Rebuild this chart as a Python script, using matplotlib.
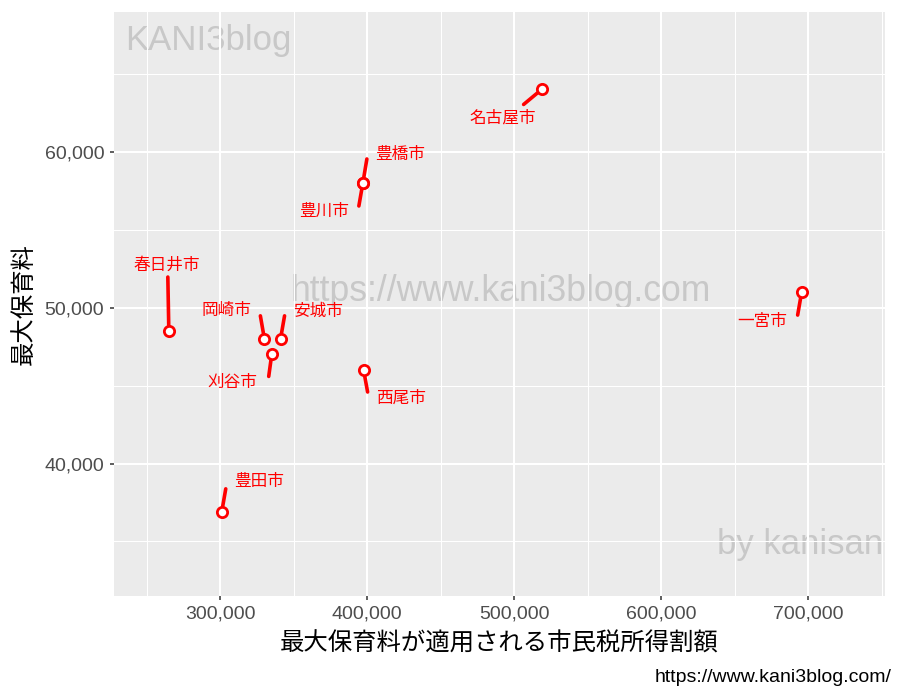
import matplotlib
matplotlib.use('Agg')
import matplotlib.pyplot as plt
from matplotlib.ticker import FuncFormatter, MultipleLocator

plt.rcParams['font.family'] = ['Liberation Sans', 'Noto Sans CJK JP']

# ---- data ----
cities = ['名古屋市', '豊橋市', '豊川市', '春日井市', '岡崎市',
          '安城市', '刈谷市', '西尾市', '一宮市', '豊田市']
income_tax = [518600, 397000, 397000, 265000, 330000,
              341000, 335000, 397500, 695500, 301000]
max_fee = [64000, 58000, 58000, 48500, 48000,
           48000, 47000, 46000, 51000, 36900]

# label placement (pixels from the point, repel-like)
label_dx = [-39, 37, -39, -2, -38, 37, -39, 37, -39, 37]
label_dy = [-28, 28, -28, 66, 28, 28, -28, -28, -29, 30]
# where each leader segment ends (pixels from the point)
seg_dx = [-18, 4, -4, -1, -4, 4, -3, 4, -4, 4]
seg_dy = [-15, 24, -23, 54, 23, 23, -22, -22, -23, 23]

x_title = '最大保育料が適用される市民税所得割額'
y_title = '最大保育料'
caption = 'https://www.kani3blog.com/'

fig = plt.figure(figsize=(9, 7), dpi=100)
ax = fig.add_axes([114/900, 1 - 596/700, 771/900, 584/700])
ax.set_facecolor('#EBEBEB')
for s in ax.spines.values():
    s.set_visible(False)

ax.set_xlim(227700, 752200)
ax.set_ylim(31500, 68970)

ax.xaxis.set_major_locator(MultipleLocator(100000))
ax.xaxis.set_minor_locator(MultipleLocator(50000))
ax.yaxis.set_major_locator(MultipleLocator(10000))
ax.yaxis.set_minor_locator(MultipleLocator(5000))
fmt = FuncFormatter(lambda v, p: '{:,.0f}'.format(v))
ax.xaxis.set_major_formatter(fmt)
ax.yaxis.set_major_formatter(fmt)

ax.set_axisbelow(True)
ax.grid(which='major', color='white', lw=1.5)
ax.grid(which='minor', color='white', lw=0.75)
ax.tick_params(which='major', length=3, width=1.1, color='#333333',
               labelcolor='#4D4D4D', labelsize=14, pad=4)
ax.tick_params(which='minor', length=0)

# watermarks (under the grid)
wm = dict(color='#C8C8C8', transform=ax.transAxes, zorder=0.3)
ax.text(0.014, 0.952, 'KANI3blog', ha='left', va='center', fontsize=25, **wm)
ax.text(0.502, 0.522, 'https://www.kani3blog.com', ha='center', va='center',
        fontsize=25.6, **wm)
ax.text(0.997, 0.089, 'by kanisan', ha='right', va='center', fontsize=25, **wm)

# labels and leader segments
for name, x, y, dx, dy, sx, sy in zip(cities, income_tax, max_fee,
                                      label_dx, label_dy, seg_dx, seg_dy):
    ax.annotate('', xy=(x, y), xytext=(sx, sy), textcoords='offset pixels',
                zorder=3,
                arrowprops=dict(arrowstyle='-', color='red', lw=2.6,
                                shrinkA=0, shrinkB=0))
    ax.annotate(name, xy=(x, y), xytext=(dx, dy), textcoords='offset pixels',
                ha='center', va='center', color='red', fontsize=12, zorder=3)

ax.plot(income_tax, max_fee, 'o', ls='none', ms=7.4, mfc='white',
        mec='red', mew=2, zorder=4)

ax.set_xlabel(x_title, fontsize=17.6, color='black', labelpad=7)
ax.set_ylabel(y_title, fontsize=17.6, color='black', labelpad=6)

fig.text(892/900, 1 - 678/700, caption, ha='right', va='center',
         fontsize=14, color='black')

plt.savefig('out.png', dpi=100)
